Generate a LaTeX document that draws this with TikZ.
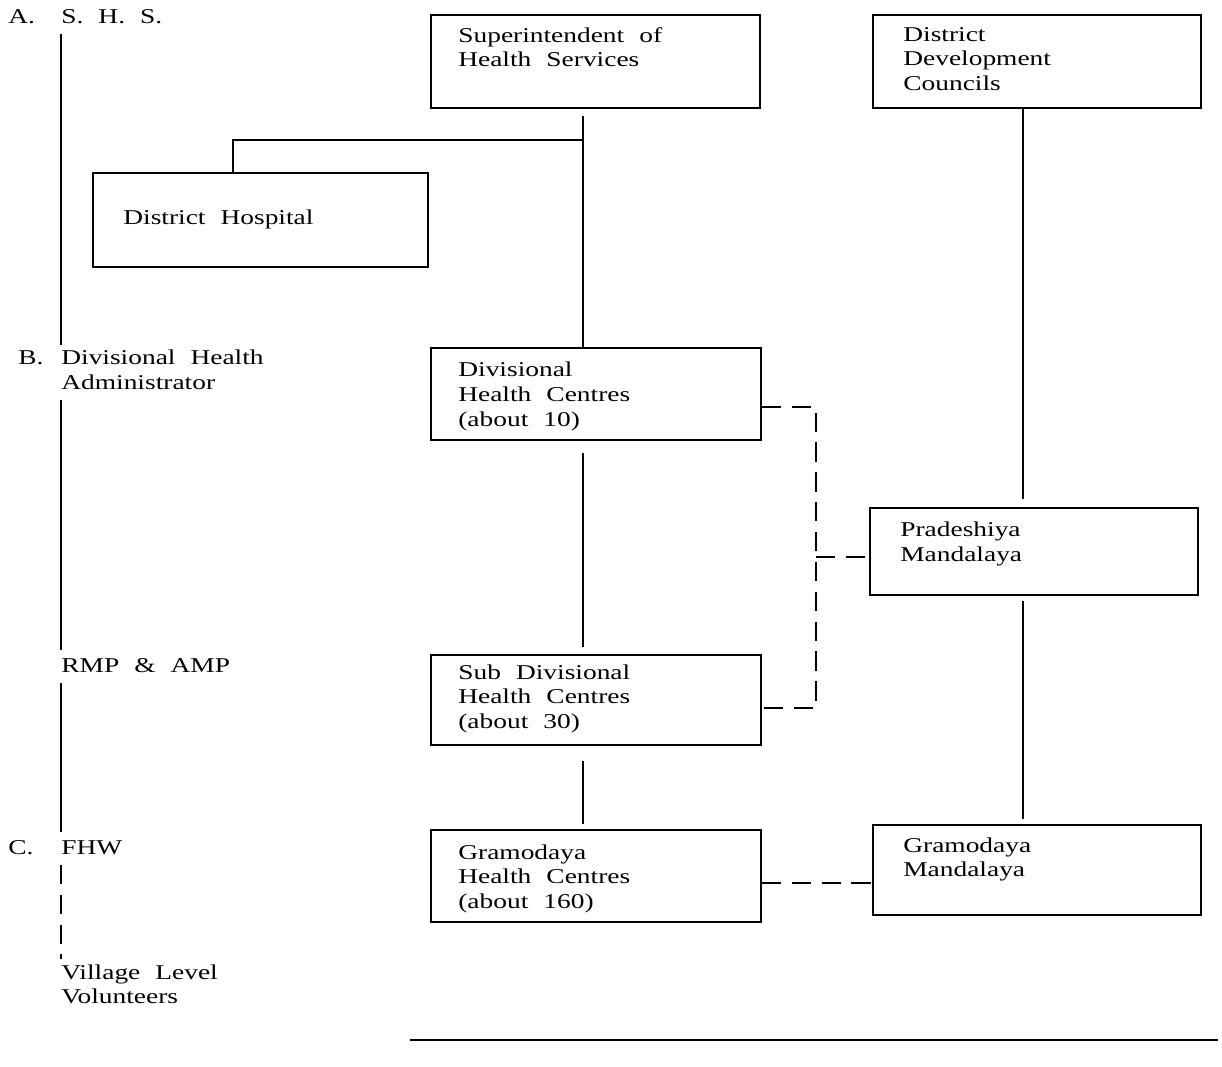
\documentclass[tikz,border=0pt]{standalone}
\usepackage{fontspec}
\setmainfont{Liberation Serif}[FakeStretch=1.3, WordSpace=2.2]
\tikzstyle{unitBox}=[shape = rectangle, draw, line width = 0.9pt, inner sep = 0pt]
\tikzstyle{boxText}=[anchor = north west, align = left, inner sep = 0pt, font = \fontsize{12}{14}\selectfont]
\tikzstyle{solidLink}=[line width = 1.1pt]
\tikzstyle{dashLink}=[line width = 0.9pt, dash pattern = on 11pt off 6pt]

\begin{document}
\begin{tikzpicture}[x = 0.02cm, y = -0.02cm]
\useasboundingbox (0,0) rectangle (1222,1066);
% boxes
\node[unitBox, minimum width = 6.58cm, minimum height = 1.86cm] (shs) at (595.5, 61.5) {};
\node[unitBox, minimum width = 6.56cm, minimum height = 1.86cm] (ddc) at (1037, 61.5) {};
\node[unitBox, minimum width = 6.70cm, minimum height = 1.88cm] (hosp) at (260.5, 220) {};
\node[unitBox, minimum width = 6.60cm, minimum height = 1.84cm] (dhc) at (596, 394) {};
\node[unitBox, minimum width = 6.60cm, minimum height = 1.80cm] (sdhc) at (596, 700) {};
\node[unitBox, minimum width = 6.60cm, minimum height = 1.84cm] (ghc) at (596, 876) {};
\node[unitBox, minimum width = 6.56cm, minimum height = 1.74cm] (pm) at (1034, 551.5) {};
\node[unitBox, minimum width = 6.56cm, minimum height = 1.80cm] (gm) at (1037, 870) {};
% box texts
\node[boxText] (shsText) at (458, 27) {Superintendent of\\Health Services};
\node[boxText] (ddcText) at (903, 27) {District\\Development\\Councils};
\node[boxText] (hospText) at (123, 210) {District Hospital};
\node[boxText] (dhcText) at (458, 362) {Divisional\\Health Centres\\(about 10)};
\node[boxText] (sdhcText) at (458, 664) {Sub Divisional\\Health Centres\\(about 30)};
\node[boxText] (ghcText) at (458, 844) {Gramodaya\\Health Centres\\(about 160)};
\node[boxText] (pmText) at (900, 522) {Pradeshiya\\Mandalaya};
\node[boxText] (gmText) at (903, 837) {Gramodaya\\Mandalaya};
% staff levels
\node[boxText] (markA) at (8, 9) {A.};
\node[boxText] (lvlA) at (61, 9) {S. H. S.};
\node[boxText] (markB) at (18, 350) {B.};
\node[boxText] (lvlB) at (61, 350) {Divisional Health\\Administrator};
\node[boxText] (lvlR) at (61, 658) {RMP \& AMP};
\node[boxText] (markC) at (8, 840) {C.};
\node[boxText] (lvlC) at (61, 840) {FHW};
\node[boxText] (lvlV) at (61, 964) {Village Level\\Volunteers};
\draw[solidLink, shorten <= 0.2cm, shorten >= 0.1cm] (lvlA.south west) -- (lvlB.north west);
\draw[solidLink, shorten <= 0.2cm, shorten >= 0.16cm] (lvlB.south west) -- (lvlR.north west);
\draw[solidLink, shorten <= 0.2cm, shorten >= 0.16cm] (lvlR.south west) -- (lvlC.north west);
\draw[dashLink, shorten <= 0.2cm, shorten >= 0.1cm] (lvlC.south west) -- (lvlV.north west);
% solid links
\coordinate (trunkA) at (583, 0);
\coordinate (trunkB) at (1023, 0);
\coordinate (hospTap) at (233, 0);
\coordinate (branchY) at (0, 140);
\draw[solidLink, shorten <= 0.14cm] (shs.south -| trunkA) -- (dhc.north -| trunkA);
\draw[solidLink] (trunkA |- branchY) -| (hosp.north -| hospTap);
\draw[solidLink, shorten <= 0.24cm, shorten >= 0.14cm] (dhc.south -| trunkA) -- (sdhc.north -| trunkA);
\draw[solidLink, shorten <= 0.3cm, shorten >= 0.1cm] (sdhc.south -| trunkA) -- (ghc.north -| trunkA);
\draw[solidLink, shorten >= 0.16cm] (ddc.south -| trunkB) -- (pm.north -| trunkB);
\draw[solidLink, shorten <= 0.1cm, shorten >= 0.1cm] (pm.south -| trunkB) -- (gm.north -| trunkB);
% dashed links
\coordinate (dashBus) at (816, 0);
\coordinate (dhcTap) at ([yshift = -0.26cm]dhc.east);
\coordinate (sdhcTap) at ([yshift = -0.16cm]sdhc.east);
\coordinate (pmTap) at ([yshift = -0.11cm]pm.west);
\coordinate (linkG) at (0, 883);
\draw[dashLink] (dhcTap) -| (dashBus |- sdhcTap) -- (sdhcTap);
\draw[dashLink] (dashBus |- pmTap) -- (pmTap);
\draw[dashLink] (ghc.east |- linkG) -- (gm.west |- linkG);
% rule at the foot
\draw[solidLink] (410, 1040) -- (1218, 1040);
\end{tikzpicture}
\end{document}
